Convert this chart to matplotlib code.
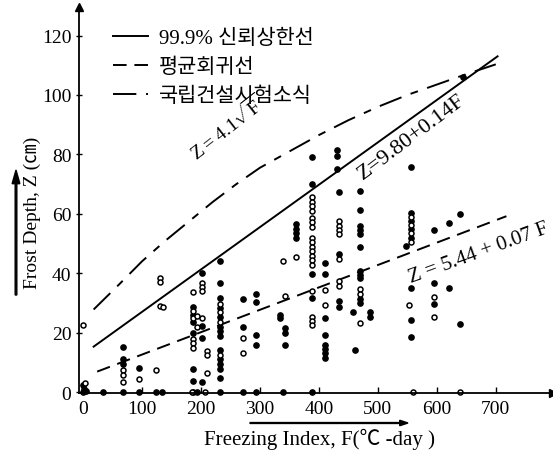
import numpy as np
import matplotlib.pyplot as plt

plt.rcParams['font.family'] = ['Liberation Serif', 'Noto Sans CJK KR', 'DejaVu Sans']
plt.rcParams['mathtext.fontset'] = 'custom'
plt.rcParams['mathtext.rm'] = 'Liberation Serif'

# scatter data (F = freezing index, Z = frost depth)
filled_F = [0, 2, 0, 5, 34,
            68, 68, 68, 68, 95, 95, 124, 134,
            186, 186, 186, 186, 186, 186, 186, 193,
            201, 201, 201, 201,
            233, 233, 233, 233, 233, 233, 233, 233, 233, 233, 233, 233, 233, 233,
            271, 271, 271, 294, 294, 294, 294, 294,
            334, 334, 342, 342, 342, 339,
            362, 362, 362, 362,
            388, 388, 388, 388, 388,
            410, 410, 410, 410, 410, 410, 410, 410,
            430, 430, 430, 434, 434, 434, 434,
            458, 461,
            469, 469, 469, 469, 469, 469, 469, 469, 469, 469, 469,
            486, 486, 548,
            557, 557, 557, 557, 557, 557, 557, 557,
            595, 595, 595, 620, 620, 640, 640, 644]
filled_Z = [0, 1.2, 2.5, 0.3, 0,
            15.3, 11, 9.6, 0, 8.1, 0, 0, 0,
            28.8, 26.1, 23.7, 19.8, 7.8, 3.8, 0, 0,
            40, 22.4, 18.1, 3.4,
            44, 36.7, 31.6, 28.3, 25.2, 22, 20.5, 19, 14.2, 11, 9.4, 7.9, 4.7, 0,
            31.2, 21.8, 0, 33, 30.2, 19.3, 16, 0,
            26, 24.8, 21.5, 19.8, 15.8, 0,
            56.6, 55, 53.5, 52,
            79, 70, 39.6, 31.6, 0,
            43.5, 39.6, 24.8, 19.2, 15.9, 14.5, 13, 11.5,
            81.4, 79.5, 75, 67.3, 46.4, 30.5, 28.8,
            27.1, 14.1,
            67.8, 61.3, 55.9, 54.5, 53.1, 48.8, 40.7, 39.5, 38.4, 31.5, 30,
            27.1, 25.4, 49.2,
            75.7, 60.4, 57.6, 54.8, 52, 35, 24.3, 18.6,
            54.5, 36.7, 29.6, 57, 35, 60.1, 22.9, 106]

open_F = [0, 3, 68, 68, 68, 95, 124, 131, 131, 131, 135,
          186, 186, 186, 186, 186, 186, 194, 194, 184, 207,
          201, 201, 201, 201, 210, 210, 210,
          233, 233, 233, 233, 271, 271, 339, 342, 362,
          388, 388, 388, 388, 388, 388, 388, 388, 388, 388, 388, 388, 388, 388,
          388, 388, 388, 388,
          410, 410, 434, 434, 434, 434, 434, 434, 434,
          469, 469, 469, 553, 557, 557, 557, 557, 560, 595, 595, 640]
open_Z = [22.5, 3, 7.4, 5.7, 3.4, 4.5, 7.6, 38.3, 37, 29, 28.5,
          33.8, 27.4, 24.8, 18, 16.4, 14.7, 25.5, 22, 0, 0,
          36.7, 35.3, 33.9, 24.8, 14, 12.5, 6.4,
          29.8, 26.8, 23.6, 12.6, 18.3, 13.3, 44, 32.2, 45.3,
          65.5, 64, 62.5, 61, 58.7, 57.2, 55.5, 52, 50.5, 49, 47.4, 45.8, 44.3, 42.7,
          33.9, 25.4, 24, 22.6,
          34.5, 29.4, 57.6, 56, 54.5, 53.2, 44.8, 37.3, 35.8,
          34.6, 33, 23.2, 29.4, 59, 56.2, 53.4, 50.5, 0, 32, 25.2, 0]

# lines
upper_F = [18, 703]
upper_Z = [15.3, 113]
reg_F = [24, 718]
reg_Z = [6.9, 59.2]
lab_F = [18, 60, 100, 140, 180, 220, 260, 300, 350, 400, 450, 500, 550, 600, 650, 700]
lab_Z = [27.8, 36, 44, 51, 57.5, 64, 70, 75.5, 81, 86.5, 91.5, 96, 100, 103.5, 107, 110.3]

legend_labels = ['99.9% 신뢰상한선', '평균회귀선', '국립건설시험소식']
xticks = [0, 100, 200, 300, 400, 500, 600, 700]
yticks = [0, 20, 40, 60, 80, 100, 120]

W, H = 553, 456
fig = plt.figure(figsize=(W / 100, H / 100), dpi=100)
ax = fig.add_axes([79 / W, 1 - 394 / H, 1 - 79 / W, (394 - 8) / H])

l1, = ax.plot(upper_F, upper_Z, color='black', lw=1.4)
l2, = ax.plot(reg_F, reg_Z, color='black', lw=1.4, dashes=(7, 4))
l3, = ax.plot(lab_F, lab_Z, color='black', lw=1.4, dashes=(12, 5, 4, 5))

ax.plot(filled_F, filled_Z, 'o', color='black', ms=3.8, clip_on=False)
ax.plot(open_F, open_Z, 'o', mfc='white', mec='black', mew=1.1, ms=3.6, clip_on=False)

ax.set_xlim(-6.8, 797)
ax.set_ylim(-0.3, 129.6)
ax.set_xticks(xticks)
ax.set_yticks(yticks)
ax.tick_params(axis='x', direction='in', length=4, width=1, labelsize=14, pad=5)
ax.tick_params(axis='y', direction='inout', length=5, width=1, labelsize=14, pad=3)
for s in ['top', 'right']:
    ax.spines[s].set_visible(False)
for s in ['left', 'bottom']:
    ax.spines[s].set_linewidth(1.3)
ax.plot(1, -0.3, '>k', ms=6, transform=ax.get_yaxis_transform(), clip_on=False)
ax.plot(-6.8, 1, '^k', ms=6, transform=ax.get_xaxis_transform(), clip_on=False)

leg = ax.legend([l1, l2, l3], legend_labels, loc='upper left', bbox_to_anchor=(0.032, 0.993),
                frameon=False, fontsize=15, handlelength=1.7, handletextpad=0.5,
                labelspacing=0.45)

ax.text(244, 89, r'Z$=$4.1$\sqrt{\rm F}$', rotation=38, fontsize=14,
        ha='center', va='center', rotation_mode='anchor')
ax.text(558, 86, 'Z=9.80+0.14F', rotation=37, fontsize=16,
        ha='center', va='center', rotation_mode='anchor')
ax.text(671, 47, 'Z = 5.44 + 0.07 F', rotation=20, fontsize=15,
        ha='center', va='center', rotation_mode='anchor')

fig.text(320 / W, 1 - 439 / H, 'Freezing Index, F(℃ -day )', fontsize=15,
         ha='center', va='center')
fig.text(32 / W, 1 - 213 / H, 'Frost Depth, Z (㎝)', fontsize=14, rotation=90,
         ha='center', va='center')
fig.patches.append(plt.matplotlib.patches.FancyArrow(
    250 / W, 1 - 424 / H, 158 / W, 0, width=0.002, head_width=0.012,
    head_length=0.015, length_includes_head=True, color='black', transform=fig.transFigure))
fig.patches.append(plt.matplotlib.patches.FancyArrow(
    16 / W, 1 - 296 / H, 0, 125 / H, width=0.003, head_width=0.014,
    head_length=0.03, length_includes_head=True, color='black', transform=fig.transFigure))

fig.savefig('out.png', dpi=100)
